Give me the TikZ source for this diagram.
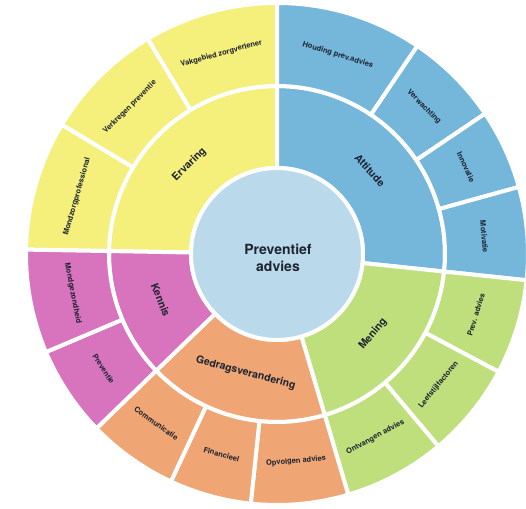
\documentclass[tikz,border=0pt]{standalone}
\usepackage{fontspec}
\setsansfont{TeX Gyre Heros}
\usepackage{tikz}
\definecolor{ervyellow}{HTML}{F4F07B}
\definecolor{attblue}{HTML}{74B7DB}
\definecolor{mengreen}{HTML}{BFDF7D}
\definecolor{gedorange}{HTML}{EFA674}
\definecolor{kenpink}{HTML}{D873BD}
\definecolor{corelight}{HTML}{BAD9EB}
\definecolor{labelink}{HTML}{1E2431}

% one piece of a ring: colour, from angle, to angle, inner radius, outer radius (pt)
\newcommand{\ringpart}[5]{%
  \filldraw[fill=#1, draw=white, line width=4pt, line join=round]
    (#2:#4pt) arc[start angle=#2, end angle=#3, radius=#4pt]
    -- (#3:#5pt) arc[start angle=#3, end angle=#2, radius=#5pt] -- cycle;}

\tikzset{
  corelabel/.style={align=center, text=labelink, font=\sffamily\bfseries\fontsize{14}{17}\selectfont},
  midlabel/.style={text=labelink, font=\sffamily\bfseries\fontsize{10.5}{12}\selectfont},
  outlabel/.style={text=labelink, font=\sffamily\bfseries\fontsize{7.5}{8}\selectfont}
}

\begin{document}
\begin{tikzpicture}
  \useasboundingbox (-277pt,-254pt) rectangle (249pt,254pt);

  % middle ring
  \ringpart{ervyellow}{90}{179}{86}{168}
  \ringpart{attblue}{-6}{90}{86}{168}
  \ringpart{mengreen}{-73.5}{-6}{86}{168}
  \ringpart{gedorange}{224}{286.5}{86}{168}
  \ringpart{kenpink}{179}{224}{86}{168}

  % outer ring
  \ringpart{ervyellow}{90}{121}{168}{251}
  \ringpart{ervyellow}{121}{149}{168}{251}
  \ringpart{ervyellow}{149}{179}{168}{251}
  \ringpart{attblue}{56}{90}{168}{251}
  \ringpart{attblue}{34}{56}{168}{251}
  \ringpart{attblue}{15.5}{34}{168}{251}
  \ringpart{attblue}{-6}{15.5}{168}{251}
  \ringpart{mengreen}{-28}{-6}{168}{251}
  \ringpart{mengreen}{-50}{-28}{168}{251}
  \ringpart{mengreen}{-73.5}{-50}{168}{251}
  \ringpart{gedorange}{-96}{-73.5}{168}{251}
  \ringpart{gedorange}{-115}{-96}{168}{251}
  \ringpart{gedorange}{224}{245}{168}{251}
  \ringpart{kenpink}{203}{224}{168}{251}
  \ringpart{kenpink}{179}{203}{168}{251}

  % centre
  \filldraw[fill=corelight, draw=white, line width=4pt] (0,0) circle[radius=86pt];
  \node[corelabel] (core) at (1pt,-4pt) {Preventief\\advies};

  % labels of the middle ring
  \node[midlabel, rotate=44.5] (ervaring) at (134.5:125pt) {Ervaring};
  \node[midlabel, rotate=-48] (attitude) at (42:125pt) {Attitude};
  \node[midlabel, rotate=50.25] (mening) at (-39.75:125pt) {Mening};
  \node[midlabel, rotate=-14.75] (gedrag) at (-104.75:123pt) {Gedragsverandering};
  \node[midlabel, rotate=-68.5] (kennis) at (201.5:125pt) {Kennis};

  % labels of the outer ring
  \node[outlabel, rotate=15.5] (vakgebied) at (105.5:208pt) {Vakgebied zorgverlener};
  \node[outlabel, rotate=45] (verkregen) at (135:208pt) {Verkregen preventie};
  \node[outlabel, rotate=74] (mondzorg) at (164:208pt) {Mondzorgprofessional};
  \node[outlabel, rotate=-17] (houding) at (73:208pt) {Houding prev.advies};
  \node[outlabel, rotate=-45] (verwachting) at (45:208pt) {Verwachting};
  \node[outlabel, rotate=-65.25] (innovatie) at (24.75:208pt) {Innovatie};
  \node[outlabel, rotate=-85.25] (motivatie) at (4.75:208pt) {Motivatie};
  \node[outlabel, rotate=73] (prevadvies) at (-17:208pt) {Prev. advies};
  \node[outlabel, rotate=51] (leefstijl) at (-39:208pt) {Leefstijlfactoren};
  \node[outlabel, rotate=28.25] (ontvangen) at (-61.75:208pt) {Ontvangen advies};
  \node[outlabel, rotate=5.25] (opvolgen) at (-84.75:208pt) {Opvolgen advies};
  \node[outlabel, rotate=-15.5] (financieel) at (-105.5:208pt) {Financieel};
  \node[outlabel, rotate=-35.5] (communicatie) at (234.5:208pt) {Communicatie};
  \node[outlabel, rotate=-56.5] (preventie) at (213.5:208pt) {Preventie};
  \node[outlabel, rotate=-79] (mondgezond) at (191:208pt) {Mondgezondheid};
\end{tikzpicture}
\end{document}
